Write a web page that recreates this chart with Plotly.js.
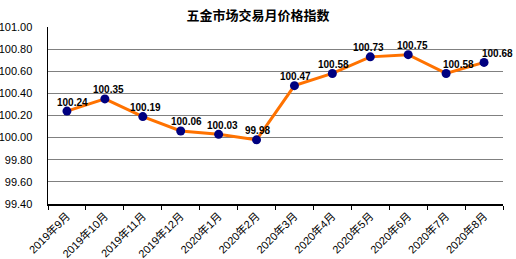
<!DOCTYPE html>
<html>
<head>
<meta charset="utf-8">
<script src="https://cdn.plot.ly/plotly-3.0.1.min.js"></script>
<style>html,body{margin:0;padding:0;background:#fff;}#chart{width:516px;height:259px;}</style>
</head>
<body>
<div id="chart"></div>
<script>
const months = ["2019年9月","2019年10月","2019年11月","2019年12月","2020年1月","2020年2月","2020年3月","2020年4月","2020年5月","2020年6月","2020年7月","2020年8月"];
const priceIndex = [100.24,100.35,100.19,100.06,100.03,99.98,100.47,100.58,100.73,100.75,100.58,100.68];
const yTicks = [99.4,99.6,99.8,100.0,100.2,100.4,100.6,100.8,101.0];

// label horizontal nudges (style only)
const labelXShift = [6,4,3,6,4,1,1,1,-2,4,12,13];

const trace = {
  x: months,
  y: priceIndex,
  type: 'scatter',
  mode: 'lines+markers',
  line: {color: '#FF7200', width: 3},
  marker: {color: '#000080', size: 9},
  hoverinfo: 'none'
};

const annotations = priceIndex.map((v, i) => ({
  x: months[i], y: v, xref: 'x', yref: 'y',
  text: v.toFixed(2), showarrow: false,
  xshift: labelXShift[i], yshift: 9,
  font: {family: 'Liberation Sans, Arial', size: 10, color: '#000', weight: 'bold'}
}));

const layout = {
  width: 516, height: 259,
  margin: {l: 48, r: 13, t: 27, b: 55},
  paper_bgcolor: '#fff', plot_bgcolor: '#fff',
  showlegend: false,
  title: {
    text: '<b>五金市场交易月价格指数</b>',
    x: 0.5, xanchor: 'center', y: 0.94, yanchor: 'middle',
    font: {family: 'Noto Sans CJK SC', size: 13, color: '#000'}
  },
  xaxis: {
    type: 'category',
    range: [-0.5, 11.5],
    showgrid: false,
    showline: true, linecolor: '#000', linewidth: 1.5,
    ticks: 'outside', tickson: 'boundaries', ticklen: 4, tickcolor: '#000', tickwidth: 1,
    tickangle: -45,
    tickfont: {family: 'Liberation Sans, Noto Sans CJK SC', size: 11, color: '#000'},
    zeroline: false
  },
  yaxis: {
    range: [99.4, 101.0],
    tickvals: yTicks,
    ticktext: yTicks.map(v => v.toFixed(2)),
    showgrid: true, gridcolor: '#808080', gridwidth: 1,
    showline: true, linecolor: '#000', linewidth: 1.5,
    ticks: '', ticklabelstandoff: 12,
    tickfont: {family: 'Liberation Sans, Arial', size: 11, color: '#000'},
    zeroline: false
  },
  annotations: annotations
};

Plotly.newPlot('chart', [trace], layout, {displayModeBar: false, staticPlot: true});
</script>
</body>
</html>
